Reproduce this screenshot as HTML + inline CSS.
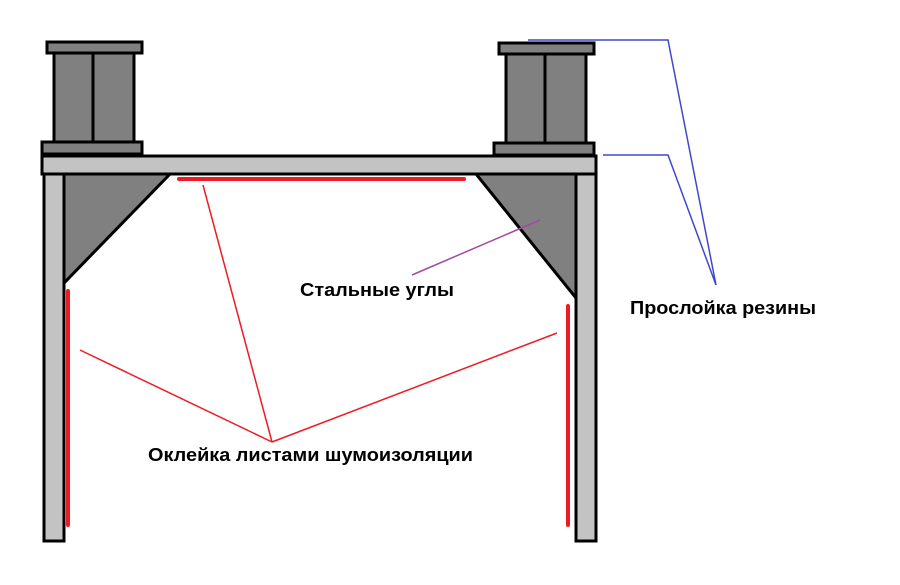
<!DOCTYPE html>
<html><head><meta charset="utf-8"><style>
body{margin:0;background:#fff}
svg text{font-family:"Liberation Sans",sans-serif;font-weight:bold;font-size:18px;fill:#000}
</style></head><body>
<svg width="900" height="580" viewBox="0 0 900 580" xmlns="http://www.w3.org/2000/svg">
<g stroke="#000" stroke-width="3">
<rect x="47" y="42" width="95" height="11" fill="#808080"/>
<rect x="54" y="53" width="80" height="89" fill="#808080"/>
<line x1="93" y1="53" x2="93" y2="142"/>
<rect x="42" y="142" width="100" height="12" fill="#808080"/>
<rect x="499" y="43" width="95" height="11" fill="#808080"/>
<rect x="506" y="54" width="80" height="89" fill="#808080"/>
<line x1="545" y1="54" x2="545" y2="143"/>
<rect x="494" y="143" width="100" height="12" fill="#808080"/>
<rect x="42" y="156" width="554" height="18" fill="#c3c3c3"/>
<rect x="44" y="174" width="20" height="367" fill="#c3c3c3"/>
<rect x="576" y="174" width="20" height="367" fill="#c3c3c3"/>
<polygon points="64,174 170,174 64,283" fill="#808080"/>
<polygon points="476,174 576,174 576,298" fill="#808080"/>
</g>
<g stroke="#ed1c24" stroke-width="4" stroke-linecap="round">
<line x1="179" y1="179" x2="464" y2="179"/>
<line x1="68" y1="291" x2="68" y2="525"/>
<line x1="568" y1="306" x2="568" y2="525"/>
</g>
<g stroke="#ed1c24" stroke-width="1.5" fill="none">
<line x1="203" y1="185" x2="272" y2="442"/>
<line x1="80" y1="350" x2="272" y2="442"/>
<line x1="557" y1="333" x2="272" y2="442"/>
</g>
<line x1="412" y1="275" x2="540" y2="220" stroke="#a349a4" stroke-width="1.5"/>
<g stroke="#3f48cc" stroke-width="1.5" fill="none">
<polyline points="528,40 668,40 716,285"/>
<polyline points="603,155 668,155 716,285"/>
</g>
<text x="300" y="296" textLength="154" lengthAdjust="spacingAndGlyphs">Стальные углы</text>
<text x="630" y="314" textLength="186" lengthAdjust="spacingAndGlyphs">Прослойка резины</text>
<text x="148" y="461" textLength="325" lengthAdjust="spacingAndGlyphs">Оклейка листами шумоизоляции</text>
</svg>
</body></html>
